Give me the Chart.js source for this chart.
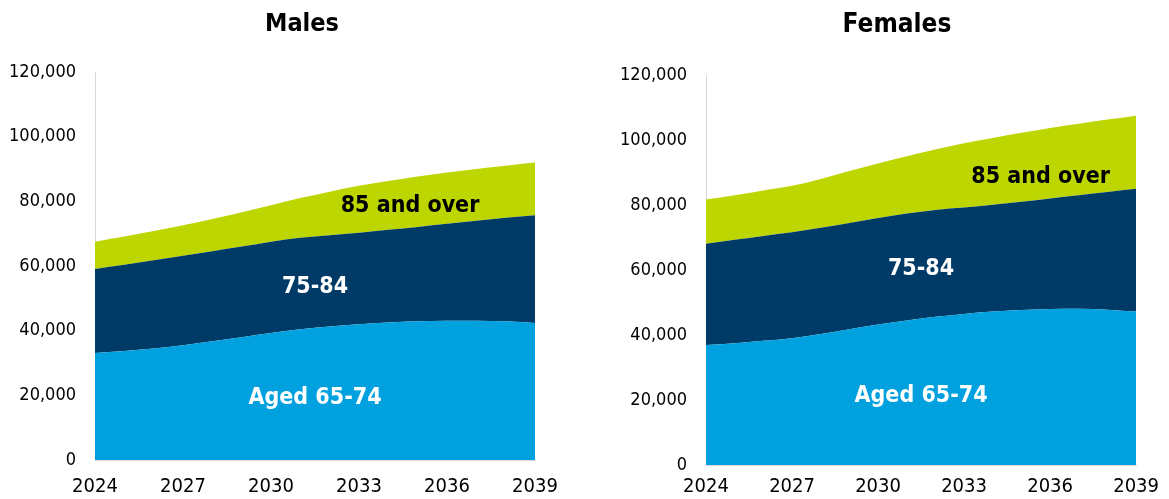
<!DOCTYPE html>
<html><head><meta charset="utf-8">
<script src="https://cdn.jsdelivr.net/npm/chart.js@4/dist/chart.umd.min.js"></script>
<style>
html,body{margin:0;padding:0;background:#fff;overflow:hidden;}
#wrap{position:relative;width:1169px;height:499px;overflow:hidden;}
.title{position:absolute;top:8px;font:bold 25px "DejaVu Sans Condensed","DejaVu Sans",sans-serif;color:#000;transform:translateX(-50%);white-space:nowrap;line-height:30px;}
.box{position:absolute;top:0;}
</style></head><body>
<div id="wrap">
<div class="box" style="left:0;width:604px"><canvas id="m" width="604" height="514"></canvas></div>
<div class="box" style="left:600px;width:569px"><canvas id="f" width="569" height="509"></canvas></div>
<div class="title" style="left:302px">Males</div>
<div class="title" style="left:897px;font-size:26px">Females</div>
</div>
<script>
const years = ['2024','2025','2026','2027','2028','2029','2030','2031','2032','2033','2034','2035','2036','2037','2038','2039'];
const seriesNames = ['Aged 65-74','75-84','85 and over'];
const yTicks = [0,20000,40000,60000,80000,100000,120000];

const males6574 = [33100,33700,34500,35500,36700,38000,39300,40400,41300,42000,42500,42900,43100,43100,42900,42400];
const males7584 = [26000,26700,27300,27700,27900,28000,28200,28300,28200,28300,28700,29200,30000,30900,32000,33300];
const males85   = [8400,8700,9000,9400,9900,10600,11300,12300,13500,14500,15100,15600,15800,16000,16100,16300];

const females6574 = [36900,37500,38200,39000,40300,41800,43200,44500,45600,46500,47200,47700,48000,48100,47800,47200];
const females7584 = [31200,31800,32300,32600,32700,32700,32800,32900,32900,32700,32900,33300,34000,34900,36200,37800];
const females85   = [13600,13700,14000,14300,15000,16000,16800,17600,18600,19800,20500,21200,21700,22000,22300,22500];

const COLORS = ['#00A1DE','#003B68','#BED600'];
const FONT = '"DejaVu Sans Condensed","DejaVu Sans",sans-serif';

const areaLabels = {
  id:'areaLabels',
  afterDatasetsDraw(chart, args, opts){
    const {ctx, scales:{x,y}} = chart;
    ctx.save();
    ctx.font = 'bold 23px ' + FONT;
    ctx.textAlign='center'; ctx.textBaseline='alphabetic';
    for (const l of opts.items){
      ctx.fillStyle = l.color;
      ctx.fillText(l.text, x.getPixelForValue(l.x), y.getPixelForValue(l.y));
    }
    ctx.restore();
  }
};

function makeChart(id, s1, s2, s3, cfg){
  const values = [s1,s2,s3];
  return new Chart(document.getElementById(id), {
    type:'line',
    data:{
      labels: years,
      datasets: values.map((v,i)=>({
        label: seriesNames[i], data: v,
        backgroundColor: COLORS[i], borderWidth:0, pointRadius:0,
        fill: i===0 ? 'origin' : '-1',
        cubicInterpolationMode:'monotone'
      }))
    },
    options:{
      responsive:false, animation:false, devicePixelRatio:1,
      layout:{padding:cfg.padding},
      plugins:{legend:{display:false}, title:{display:false}, tooltip:{enabled:false},
        areaLabels:{items:cfg.labels}},
      scales:{
        x:{
          grid:{display:false, drawTicks:false}, border:{display:true,color:'#d9d9d9',width:1},
          ticks:{autoSkip:false, maxRotation:0, padding:cfg.xPad, color:'#000',
            font:{family:FONT,size:20},
            callback:function(v,i){ return i%3===0 ? years[i] : ''; }}
        },
        y:{
          stacked:true, min:0, max:120000,
          afterBuildTicks:(s)=>{ s.ticks = yTicks.map(v=>({value:v})); },
          afterFit:(s)=>{ s.width = cfg.yWidth; },
          grid:{display:false, drawTicks:false}, border:{display:true,color:'#d9d9d9',width:1},
          ticks:{padding:19, color:'#000', font:{family:FONT,size:18},
            callback:(v)=>v.toLocaleString('en-US')}
        }
      }
    },
    plugins:[areaLabels]
  });
}

makeChart('m', males6574, males7584, males85, {
  padding:{top:72,right:69,bottom:0,left:0}, yWidth:95, xPad:15,
  labels:[
    {text:'Aged 65-74', x:7.5, y:17400, color:'#fff'},
    {text:'75-84', x:7.5, y:51800, color:'#fff'},
    {text:'85 and over', x:10.74, y:76600, color:'#000'}
  ]
});
makeChart('f', females6574, females7584, females85, {
  padding:{top:75,right:29,bottom:0,left:0}, yWidth:106, xPad:10,
  labels:[
    {text:'Aged 65-74', x:7.5, y:19400, color:'#fff'},
    {text:'75-84', x:7.5, y:58600, color:'#fff'},
    {text:'85 and over', x:11.67, y:86700, color:'#000'}
  ]
});
</script>
</body></html>
